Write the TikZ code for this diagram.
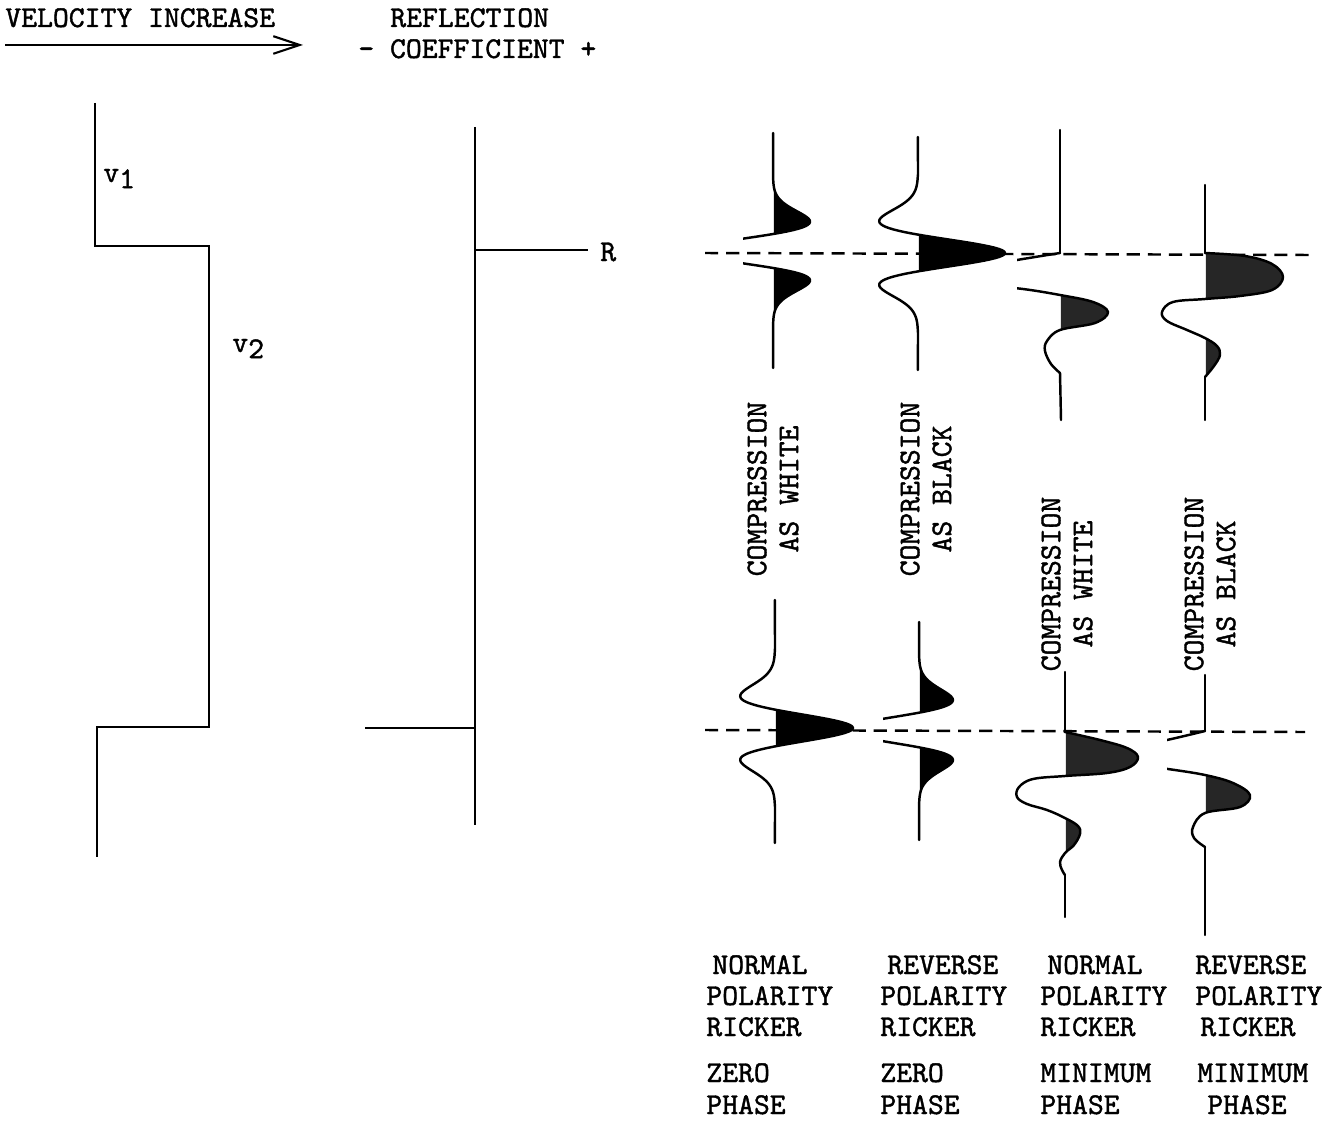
\documentclass[tikz,border=0pt]{standalone}
\usepackage{fontspec}
\setmonofont{lmmono10-regular.otf}[FakeBold=1.3]
\usetikzlibrary{arrows.meta}
\begin{document}
\begin{tikzpicture}[x=0.02cm,y=-0.02cm,
  declare function={rk(\s)=(1-2*\s*\s)*exp(-\s*\s);},
  txt/.style={font=\ttfamily\fontsize{17.2}{18.2}\selectfont, inner sep=0pt},
  rot/.style={txt, rotate=90, align=center},
  prof/.style={line width=1.3pt, line cap=butt, line join=miter},
  rcline/.style={line width=1.6pt},
  trace/.style={line width=1.4pt, line join=round, line cap=round},
  refline/.style={line width=1.4pt, dash pattern=on 7.5pt off 4.5pt},
  zfill/.style={fill=black},
  mfill/.style={fill=black!85}
]
\useasboundingbox (0,0) rectangle (1322,1122);

% ---------------- header ----------------
\node[txt, anchor=base west] (velinc) at (5,27) {VELOCITY INCREASE};
\node[txt, anchor=base west] (refl) at (390,27) {REFLECTION};
\node[txt, anchor=base west] (coef) at (358,58) {- COEFFICIENT +};
\coordinate (arrS) at (5,45);
\coordinate (arrE) at (303,45);
\draw[prof, -{Straight Barb[length=15pt,width=10pt,line width=1.2pt]}] (arrS) -- (arrE);

% ---------------- velocity profile ----------------
\draw[prof] (95,103) -- (95,246) -- (209,246) -- (209,727) -- (97,727) -- (97,857);
\node[txt, anchor=base west] (vone) at (103,182) {v\raisebox{-3.5pt}{1}};
\node[txt, anchor=base west] (vtwo) at (232,352) {v\raisebox{-3.5pt}{2}};

% ---------------- reflection coefficient ----------------
\draw[rcline] (475,127) -- (475,825);
\draw[prof] (475,250) -- (588,250);
\draw[prof] (365,728) -- (475,728);
\node[txt, anchor=base west] (rlab) at (600,261) {R};

% ---------------- reference (dashed) lines ----------------
\draw[refline] (705,253) -- (1310,255);
\draw[refline] (705,730) -- (1305,732);

% ================= top row =================
% T1 top: zero phase, normal polarity, compression white
\begin{scope}
  \clip (743,120) rectangle (900,380);
  \draw[trace] plot[domain=133:368, samples=180, variable=\t] ({773-83*rk((\t-251)/24)}, \t);
\end{scope}
\begin{scope}
  \clip (773.8,120) rectangle (900,380);
  \fill[zfill] plot[domain=133:368, samples=180, variable=\t] ({773-83*rk((\t-251)/24)}, \t) -- cycle;
\end{scope}

% T2 top: zero phase, reverse polarity, compression black
\begin{scope}
  \clip (918.8,120) rectangle (1040,380);
  \fill[zfill] plot[domain=137:370, samples=180, variable=\t] ({918+87*rk((\t-253)/26)}, \t) -- cycle;
\end{scope}
\draw[trace] plot[domain=137:370, samples=180, variable=\t] ({918+87*rk((\t-253)/26)}, \t);

% T3 top: minimum phase, normal polarity
\begin{scope}
  \clip (1060.8,240) rectangle (1180,380);
  \fill[mfill] plot[smooth, tension=0.6] coordinates {(1060,253) (1017,260) (960,270) (935,277) (975,284) (1023,289) (1060,295) (1093,302) (1108,312) (1095,323) (1060,330) (1047,341) (1045,351) (1051,364) (1060,373)} -- cycle;
\end{scope}
\begin{scope}
  \clip (1017,120) rectangle (1180,430);
  \draw[trace] (1060,130) -- (1060,253);
  \draw[trace] plot[smooth, tension=0.6] coordinates {(1060,253) (1017,260) (960,270) (935,277) (975,284) (1023,289) (1060,295) (1093,302) (1108,312) (1095,323) (1060,330) (1047,341) (1045,351) (1051,364) (1060,373)};
  \draw[trace] (1060,373) -- (1061,420);
\end{scope}

% T4 top: minimum phase, reverse polarity
\begin{scope}
  \clip (1205.8,240) rectangle (1320,390);
  \fill[mfill] plot[smooth, tension=0.6] coordinates {(1205,253) (1245,256) (1272,264) (1283,277) (1272,290) (1240,296) (1205,299) (1173,302) (1162,312) (1167,321) (1187,330) (1205,338) (1217,346) (1220,355) (1214,366) (1205,377)} -- cycle;
\end{scope}
\draw[trace] (1205,185) -- (1205,253);
\draw[trace] plot[smooth, tension=0.6] coordinates {(1205,253) (1245,256) (1272,264) (1283,277) (1272,290) (1240,296) (1205,299) (1173,302) (1162,312) (1167,321) (1187,330) (1205,338) (1217,346) (1220,355) (1214,366) (1205,377)};
\draw[trace] (1205,377) -- (1205,420);

% ================= bottom row =================
% T1 bottom: zero phase, normal polarity (negative RC)
\begin{scope}
  \clip (775.8,590) rectangle (900,850);
  \fill[zfill] plot[domain=600:843, samples=180, variable=\t] ({775+78*rk((\t-728)/26)}, \t) -- cycle;
\end{scope}
\draw[trace] plot[domain=600:843, samples=180, variable=\t] ({775+78*rk((\t-728)/26)}, \t);

% T2 bottom: zero phase, reverse polarity
\begin{scope}
  \clip (919.8,600) rectangle (1030,850);
  \fill[zfill] plot[domain=622:840, samples=180, variable=\t] ({919-76*rk((\t-730)/24.5)}, \t) -- cycle;
\end{scope}
\begin{scope}
  \clip (883,600) rectangle (1030,850);
  \draw[trace] plot[domain=622:840, samples=180, variable=\t] ({919-76*rk((\t-730)/24.5)}, \t);
\end{scope}

% T3 bottom: minimum phase, normal polarity
\begin{scope}
  \clip (1065.8,720) rectangle (1180,890);
  \fill[mfill] plot[smooth, tension=0.6] coordinates {(1065,732) (1100,740) (1127,748) (1138,757) (1130,767) (1107,773) (1065,776) (1033,779) (1019,787) (1017,797) (1027,804) (1047,810) (1065,818) (1078,826) (1080,834) (1074,845) (1065,853) (1060,862) (1062,870) (1065,875)} -- cycle;
\end{scope}
\draw[trace] (1065,672) -- (1065,732);
\draw[trace] plot[smooth, tension=0.6] coordinates {(1065,732) (1100,740) (1127,748) (1138,757) (1130,767) (1107,773) (1065,776) (1033,779) (1019,787) (1017,797) (1027,804) (1047,810) (1065,818) (1078,826) (1080,834) (1074,845) (1065,853) (1060,862) (1062,870) (1065,875)};
\draw[trace] (1065,875) -- (1065,917);

% T4 bottom: minimum phase, reverse polarity
\begin{scope}
  \clip (1205.8,720) rectangle (1320,860);
  \fill[mfill] plot[smooth, tension=0.6] coordinates {(1205,731) (1167,740) (1110,752) (1100,757) (1130,764) (1168,769) (1205,775) (1233,783) (1250,795) (1240,807) (1205,813) (1193,827) (1194,838) (1205,847)} -- cycle;
\end{scope}
\begin{scope}
  \clip (1167,660) rectangle (1320,950);
  \draw[trace] (1205,675) -- (1205,731);
  \draw[trace] plot[smooth, tension=0.6] coordinates {(1205,731) (1167,740) (1110,752) (1100,757) (1130,764) (1168,769) (1205,775) (1233,783) (1250,795) (1240,807) (1205,813) (1193,827) (1194,838) (1205,847)};
  \draw[trace] (1205,847) -- (1205,935);
\end{scope}

% ---------------- rotated labels ----------------
\node[rot] (cw1) at (773,489) {COMPRESSION\\AS WHITE};
\node[rot] (cb1) at (926,489) {COMPRESSION\\AS BLACK};
\node[rot] (cw2) at (1067,584) {COMPRESSION\\AS WHITE};
\node[rot] (cb2) at (1210,584) {COMPRESSION\\AS BLACK};

% ---------------- bottom labels ----------------
\node[txt, anchor=base west] (a1) at (712,974) {NORMAL};
\node[txt, anchor=base west] (a2) at (706,1005) {POLARITY};
\node[txt, anchor=base west] (a3) at (706,1036) {RICKER};
\node[txt, anchor=base west] (a4) at (706,1082) {ZERO};
\node[txt, anchor=base west] (a5) at (706,1114) {PHASE};

\node[txt, anchor=base west] (b1) at (887,974) {REVERSE};
\node[txt, anchor=base west] (b2) at (880,1005) {POLARITY};
\node[txt, anchor=base west] (b3) at (880,1036) {RICKER};
\node[txt, anchor=base west] (b4) at (880,1082) {ZERO};
\node[txt, anchor=base west] (b5) at (880,1114) {PHASE};

\node[txt, anchor=base west] (c1) at (1047,974) {NORMAL};
\node[txt, anchor=base west] (c2) at (1040,1005) {POLARITY};
\node[txt, anchor=base west] (c3) at (1040,1036) {RICKER};
\node[txt, anchor=base west] (c4) at (1040,1082) {MINIMUM};
\node[txt, anchor=base west] (c5) at (1040,1114) {PHASE};

\node[txt, anchor=base west] (d1) at (1195,974) {REVERSE};
\node[txt, anchor=base west] (d2) at (1195,1005) {POLARITY};
\node[txt, anchor=base west] (d3) at (1200,1036) {RICKER};
\node[txt, anchor=base west] (d4) at (1197,1082) {MINIMUM};
\node[txt, anchor=base west] (d5) at (1207,1114) {PHASE};
\end{tikzpicture}
\end{document}
